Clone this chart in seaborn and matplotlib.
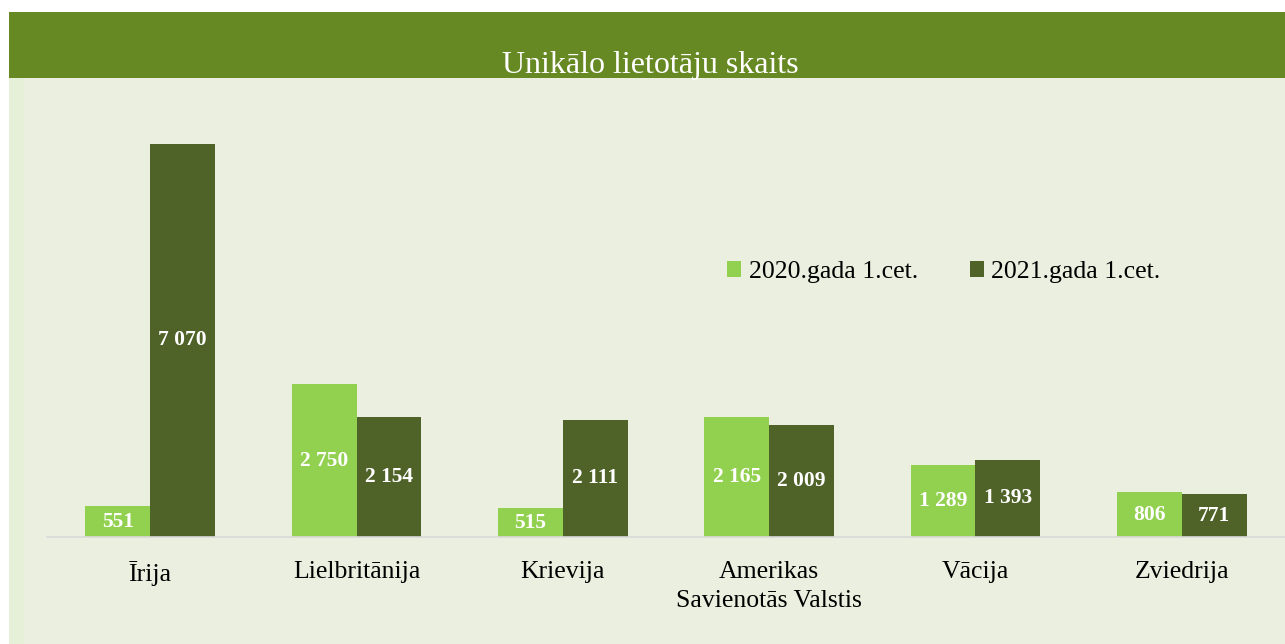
import matplotlib
matplotlib.use("Agg")
import matplotlib.pyplot as plt
import seaborn as sns
import pandas as pd
from matplotlib.patches import Rectangle

categories = ["Īrija", "Lielbritānija", "Krievija", "Amerikas\nSavienotās Valstis", "Vācija", "Zviedrija"]
series_names = ["2020.gada 1.cet.", "2021.gada 1.cet."]
values_2020 = [551, 2750, 515, 2165, 1289, 806]
values_2021 = [7070, 2154, 2111, 2009, 1393, 771]
title = "Unikālo lietotāju skaits"

df = pd.DataFrame({
    "country": categories * 2,
    "year": [series_names[0]] * len(categories) + [series_names[1]] * len(categories),
    "value": values_2020 + values_2021,
})

sns.set_theme(style="white")
plt.rcParams["font.family"] = ["Liberation Serif", "DejaVu Serif"]

bg = "#ebefdf"
fig = plt.figure(figsize=(12.85, 6.44), dpi=100, facecolor="white")
# background panels
fig.patches.append(Rectangle((9/1285, 0), 1 - 9/1285, 1 - 12/644, transform=fig.transFigure,
                             facecolor=bg, edgecolor="none", zorder=-10))
fig.patches.append(Rectangle((9/1285, 0), 15/1285, 1 - 12/644, transform=fig.transFigure,
                             facecolor="#e6efd8", edgecolor="none", zorder=-9))
fig.patches.append(Rectangle((9/1285, 1 - 78/644), 1 - 9/1285, 66/644, transform=fig.transFigure,
                             facecolor="#678924", edgecolor="none", zorder=-8))
fig.text(0.5 + 8/1285, 1 - 65/644, title, ha="center", va="center", color="white",
         fontsize=23)

ax = fig.add_axes([47/1285, (644-537)/644, 1 - 47/1285, 444.7/644])
ax.set_facecolor("none")
palette = ["#92d050", "#4f6228"]
sns.barplot(data=df, x="country", y="value", hue="year", palette=palette,
            saturation=1, width=0.63, ax=ax, legend=True, linewidth=0, edgecolor="none")

ax.set_ylim(0, 8000)
ax.set_xlim(-0.5, 5.5)
ax.set_xlabel("")
ax.set_ylabel("")
ax.set_yticks([])
for s in ["top", "right", "left"]:
    ax.spines[s].set_visible(False)
ax.spines["bottom"].set_color("#d9d9d9")
ax.spines["bottom"].set_linewidth(1.2)
ax.tick_params(axis="x", length=0, pad=17, labelsize=18.5, colors="black")
for t in ax.get_xticklabels():
    t.set_linespacing(1.45)
    t.set_verticalalignment("top")

def fmt(v):
    return f"{v:,}".replace(",", " ")

for cont, vals in zip(ax.containers, [values_2020, values_2021]):
    ax.bar_label(cont, labels=[fmt(v) for v in vals], label_type="center",
                 color="white", fontsize=15.5, fontweight="bold")

leg = ax.legend(loc="center left", bbox_to_anchor=(704/1285, 1 - 272/644),
                bbox_transform=fig.transFigure, ncol=2, frameon=False,
                fontsize=18.5, handlelength=0.55, handleheight=0.55,
                columnspacing=2.0, handletextpad=0.3, labelcolor="black")

fig.savefig("out.png", dpi=100, facecolor=fig.get_facecolor())
